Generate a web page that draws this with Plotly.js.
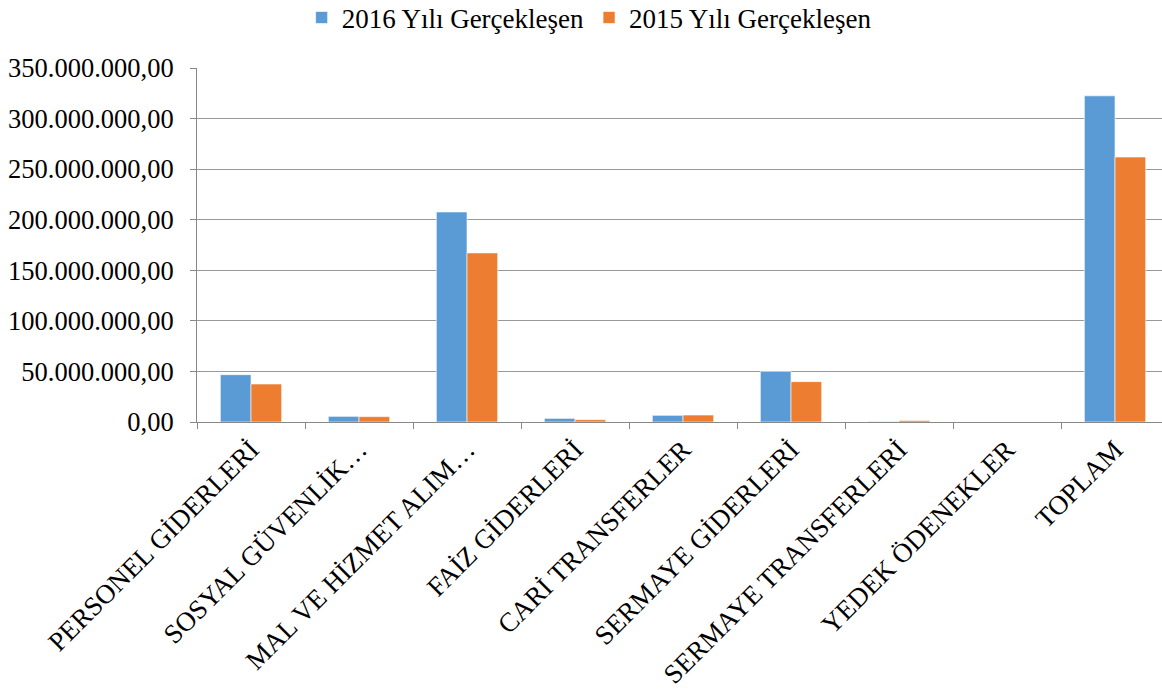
<!DOCTYPE html>
<html>
<head>
<meta charset="utf-8">
<script src="https://cdn.plot.ly/plotly-3.0.1.min.js"></script>
<style>html,body{margin:0;padding:0;background:#fff;}#chart{width:1162px;height:690px;}</style>
</head>
<body>
<div id="chart"></div>
<script>
const categories = [
  "PERSONEL GİDERLERİ",
  "SOSYAL GÜVENLİK…",
  "MAL VE HİZMET ALIM…",
  "FAİZ GİDERLERİ",
  "CARİ TRANSFERLER",
  "SERMAYE GİDERLERİ",
  "SERMAYE TRANSFERLERİ",
  "YEDEK ÖDENEKLER",
  "TOPLAM"
];
const series2016Name = "2016 Yılı Gerçekleşen";
const series2015Name = "2015 Yılı Gerçekleşen";
const values2016 = [46800000, 5600000, 207700000, 3600000, 6600000, 50100000, 500000, 0, 322500000];
const values2015 = [37600000, 5300000, 167200000, 2300000, 6900000, 39900000, 1500000, 0, 262000000];
const yTickVals = [0, 50000000, 100000000, 150000000, 200000000, 250000000, 300000000, 350000000];

const fontFam = 'Liberation Serif, Times New Roman, serif';

const traces = [
  {type: 'bar', name: series2016Name, x: categories, y: values2016,
   marker: {color: '#5B9BD5', line: {color: 'rgba(255,255,255,0.6)', width: 1}}},
  {type: 'bar', name: series2015Name, x: categories, y: values2015,
   marker: {color: '#ED7D31', line: {color: 'rgba(255,255,255,0.6)', width: 1}}}
];

const layout = {
  width: 1162, height: 690,
  margin: {l: 197, r: 0, t: 68, b: 268, pad: 0, autoexpand: false},
  paper_bgcolor: '#fff', plot_bgcolor: '#fff',
  font: {family: fontFam, size: 27, color: '#000'},
  separators: ',.',
  barmode: 'group',
  bargap: 0.432,
  bargroupgap: 0,
  showlegend: true,
  legend: {orientation: 'h', xref: 'container', yref: 'container',
           x: 0.507, xanchor: 'center', y: 0.974, yanchor: 'middle',
           font: {family: fontFam, size: 27, color: '#000'}, itemwidth: 30},
  xaxis: {
    type: 'category',
    range: [-0.5, 8.435],
    tickangle: -45,
    tickson: 'boundaries',
    ticks: 'outside', ticklen: 6, tickcolor: '#888', tickwidth: 1,
    showline: true, linecolor: '#888', linewidth: 1,
    showgrid: false, zeroline: false,
    tickfont: {family: fontFam, size: 27, color: '#000'}
  },
  yaxis: {
    range: [0, 350000000],
    tickvals: yTickVals,
    tickformat: ',.2f',
    ticks: 'outside', ticklen: 6, tickcolor: '#888', tickwidth: 1,
    showline: true, linecolor: '#888', linewidth: 1,
    showgrid: true, gridcolor: '#999', gridwidth: 1,
    zeroline: false,
    ticklabelstandoff: 11,
    tickfont: {family: fontFam, size: 26.5, color: '#000'}
  }
};

Plotly.newPlot('chart', traces, layout, {displayModeBar: false, staticPlot: true});
</script>
</body>
</html>
